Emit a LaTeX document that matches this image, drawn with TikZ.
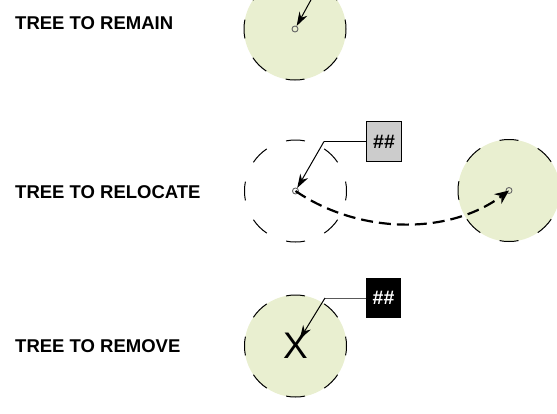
\documentclass[tikz,border=0pt]{standalone}
\usepackage{fontspec}
\setmainfont{Liberation Sans}
\usetikzlibrary{arrows.meta}
\definecolor{treefill}{HTML}{E9EFD0}
\tikzset{
  canopy/.style={circle,inner sep=0pt,minimum size=102pt,draw=black,line width=1pt,dash pattern=on 19pt off 21.05pt,dash phase=9.5pt},
  planted/.style={canopy,fill=treefill},
  pith/.style={circle,inner sep=0pt,minimum size=6pt,draw=black!60,line width=.9pt},
  lbl/.style={font=\bfseries\fontsize{18.5}{20}\selectfont,anchor=west,inner sep=0pt},
  tagbox/.style={minimum width=35pt,minimum height=40pt,inner sep=0pt,font=\bfseries\fontsize{19.5}{20}\selectfont},
  leader/.style={line width=1pt},
  pointer/.style={line width=1pt,-{Stealth[length=14pt,width=9pt]}},
  move/.style={line width=2.2pt,dash pattern=on 12pt off 6pt,-{Stealth[length=14pt,width=12pt]}}
}
\begin{document}
\begin{tikzpicture}[x=1pt,y=-1pt]
\useasboundingbox (0,0) rectangle (557,413);
\clip (0,0) rectangle (557,413);
\node[lbl] (l1) at (15,23) {TREE TO REMAIN};
\node[lbl] (l2) at (15,192) {TREE TO RELOCATE};
\node[lbl] (l3) at (15,346) {TREE TO REMOVE};
\node[planted] (c1) at (295,29) {};
\node[pith] (p1) at (295,29) {};
\coordinate (e1) at (312,-2);
\draw[pointer] (e1) -- (p1);
\node[canopy] (c2) at (295.5,191) {};
\node[pith] (p2) at (295.5,191) {};
\node[tagbox,draw=black,fill=black!20,line width=1pt] (t2) at (384,141.5) {\#\#};
\coordinate (e2) at (324,141.5);
\draw[leader] (t2.west) -- (e2);
\draw[pointer] (e2) -- (p2);
\node[planted] (c3) at (509,190.5) {};
\node[pith] (p3) at (509,190.5) {};
\draw[move] (p2.center) .. controls (360,235) and (450,235) .. (p3.center);
\node[planted] (c4) at (295.5,346) {};
\node[font=\fontsize{37}{38}\selectfont,inner sep=0pt] (x4) at (295.5,346) {X};
\node[tagbox,fill=black,text=white] (t4) at (383.5,298) {\#\#};
\coordinate (e4) at (325,298);
\draw[leader,black!65] (t4.west) -- (e4);
\draw[pointer,shorten >=8pt] (e4) -- (x4.center);
\end{tikzpicture}
\end{document}
